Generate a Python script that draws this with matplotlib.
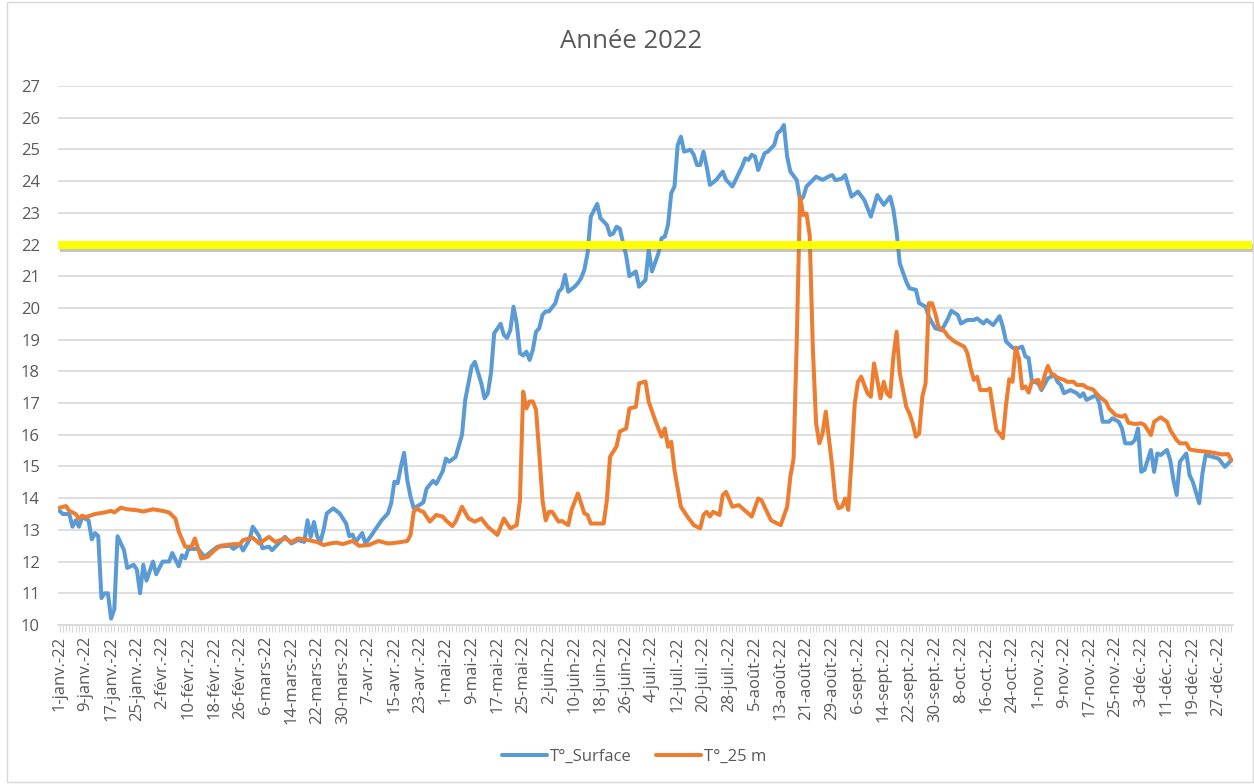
import matplotlib
matplotlib.use("Agg")
import matplotlib.pyplot as plt
import matplotlib.patheffects as pe
import pandas as pd

# Day of year (0 = 1 janv. 2022) and temperature readings
surface_days = [0, 1, 3, 4, 5, 6, 7, 9, 10, 11, 12, 13, 14, 15, 16, 17, 18, 20, 21, 23,
                24, 25, 26, 27, 29, 30, 32, 34, 35, 37, 38, 39, 40, 43, 45, 49, 53, 54, 56, 57,
                59, 60, 62, 63, 65, 66, 68, 70, 72, 74, 76, 77, 78, 79, 80, 81, 82, 83, 85, 87,
                89, 90, 91, 92, 94, 95, 97, 98, 100, 102, 103, 104, 105, 106, 107, 108, 109, 110, 112, 113,
                114, 116, 117, 119, 120, 121, 123, 125, 126, 128, 129, 131, 132, 133, 134, 135, 137, 138, 139, 140,
                141, 142, 143, 144, 145, 146, 147, 148, 149, 150, 151, 152, 154, 155, 156, 157, 158, 160, 161, 162,
                163, 164, 165, 167, 168, 170, 171, 172, 173, 174, 176, 177, 179, 180, 182, 183, 184, 186, 187, 188,
                189, 190, 191, 192, 193, 194, 196, 197, 198, 199, 200, 201, 202, 204, 206, 207, 209, 210, 212, 213,
                214, 215, 216, 217, 219, 220, 222, 223, 224, 225, 226, 227, 229, 230, 231, 232, 234, 235, 237, 239,
                240, 241, 243, 244, 246, 248, 250, 252, 254, 256, 258, 259, 260, 261, 263, 264, 266, 267, 269, 270,
                272, 274, 276, 277, 279, 280, 282, 284, 285, 287, 288, 290, 292, 293, 294, 296, 297, 299, 300, 301,
                302, 304, 305, 307, 309, 310, 311, 312, 314, 316, 317, 318, 319, 321, 322, 323, 324, 326, 327, 329,
                330, 331, 333, 334, 335, 336, 337, 338, 339, 340, 341, 342, 344, 345, 346, 347, 348, 350, 351, 352,
                354, 355, 356, 358, 360, 362, 364]
surface_vals = [13.6, 13.5, 13.5, 13.1, 13.3, 13.1, 13.4, 13.3, 12.7, 12.9, 12.8, 10.85, 11.0, 11.0, 10.2, 10.5, 12.8, 12.36, 11.8, 11.9,
                11.75, 11.0, 11.9, 11.4, 12.0, 11.6, 12.0, 12.0, 12.27, 11.85, 12.2, 12.1, 12.4, 12.4, 12.15, 12.47, 12.5, 12.4, 12.55, 12.35,
                12.7, 13.1, 12.8, 12.42, 12.47, 12.36, 12.57, 12.78, 12.57, 12.68, 12.62, 13.3, 12.78, 13.25, 12.8, 12.62, 13.0, 13.52, 13.68, 13.52,
                13.2, 12.8, 12.85, 12.62, 12.9, 12.57, 12.85, 13.0, 13.3, 13.52, 13.84, 14.52, 14.47, 14.99, 15.43, 14.57, 14.05, 13.68, 13.8, 13.87,
                14.3, 14.55, 14.45, 14.85, 15.25, 15.15, 15.3, 16.0, 17.1, 18.15, 18.3, 17.62, 17.15, 17.3, 17.94, 19.2, 19.5, 19.15, 19.05, 19.3,
                20.04, 19.51, 18.57, 18.5, 18.62, 18.36, 18.68, 19.25, 19.36, 19.78, 19.89, 19.89, 20.15, 20.51, 20.62, 21.04, 20.51, 20.67, 20.78, 20.94,
                21.2, 21.72, 22.88, 23.28, 22.83, 22.62, 22.3, 22.35, 22.56, 22.5, 21.65, 21.0, 21.15, 20.67, 20.88, 21.83, 21.15, 21.72, 22.2, 22.25,
                22.62, 23.62, 23.83, 25.14, 25.4, 24.93, 24.99, 24.83, 24.51, 24.51, 24.93, 24.46, 23.88, 24.04, 24.3, 24.04, 23.83, 24.04, 24.46, 24.72,
                24.67, 24.83, 24.78, 24.35, 24.88, 24.93, 25.14, 25.51, 25.6, 25.77, 24.77, 24.3, 24.03, 23.4, 23.5, 23.83, 24.04, 24.14, 24.04, 24.15,
                24.19, 24.03, 24.08, 24.19, 23.51, 23.67, 23.4, 22.88, 23.56, 23.25, 23.51, 23.1, 22.4, 21.4, 20.83, 20.62, 20.57, 20.15, 20.04, 19.72,
                19.36, 19.3, 19.67, 19.91, 19.78, 19.51, 19.62, 19.62, 19.67, 19.51, 19.62, 19.46, 19.74, 19.41, 18.94, 18.75, 18.7, 18.78, 18.47, 18.42,
                17.7, 17.62, 17.41, 17.78, 17.89, 17.67, 17.57, 17.31, 17.41, 17.31, 17.2, 17.31, 17.1, 17.2, 17.25, 16.99, 16.41, 16.41, 16.52, 16.41,
                16.2, 15.73, 15.73, 15.83, 16.2, 14.83, 14.89, 15.2, 15.52, 14.83, 15.41, 15.36, 15.52, 15.2, 14.57, 14.1, 15.15, 15.41, 14.73, 14.52,
                13.84, 14.78, 15.36, 15.31, 15.25, 14.99, 15.2]

deep_days = [0, 2, 3, 5, 6, 7, 8, 11, 14, 16, 17, 19, 21, 24, 26, 29, 32, 34, 36, 37,
             39, 41, 42, 44, 46, 48, 50, 54, 56, 57, 60, 62, 65, 67, 70, 72, 74, 77, 80, 82,
             84, 86, 88, 91, 93, 96, 99, 102, 105, 108, 109, 110, 111, 112, 113, 115, 117, 119, 120, 122,
             123, 125, 127, 129, 131, 133, 136, 138, 140, 142, 143, 144, 145, 146, 147, 148, 149, 150, 151, 152,
             153, 155, 156, 158, 159, 161, 163, 164, 165, 167, 169, 170, 171, 173, 174, 176, 177, 179, 180, 182,
             183, 185, 187, 188, 189, 190, 191, 193, 195, 197, 199, 200, 201, 202, 203, 205, 206, 207, 209, 211,
             213, 215, 217, 218, 221, 224, 226, 227, 228, 229, 230, 231, 232, 233, 234, 235, 236, 237, 238, 240,
             241, 242, 243, 244, 245, 246, 247, 248, 249, 251, 252, 253, 254, 255, 256, 257, 258, 259, 260, 261,
             262, 263, 264, 265, 266, 267, 268, 269, 270, 271, 272, 273, 275, 276, 278, 280, 281, 282, 283, 284,
             285, 286, 288, 289, 290, 291, 292, 293, 294, 295, 296, 297, 298, 299, 300, 301, 302, 304, 305, 306,
             307, 308, 310, 312, 313, 315, 316, 318, 319, 321, 323, 325, 326, 328, 330, 331, 332, 334, 336, 337,
             339, 340, 342, 344, 345, 347, 348, 350, 351, 353, 356, 358, 361, 363, 364]
deep_vals = [13.7, 13.75, 13.6, 13.5, 13.35, 13.45, 13.4, 13.5, 13.55, 13.6, 13.55, 13.7, 13.65, 13.62, 13.58, 13.65, 13.6, 13.55, 13.35, 12.95,
             12.47, 12.47, 12.73, 12.1, 12.15, 12.35, 12.5, 12.55, 12.55, 12.68, 12.75, 12.57, 12.78, 12.62, 12.73, 12.62, 12.73, 12.68, 12.62, 12.52,
             12.57, 12.6, 12.55, 12.65, 12.5, 12.52, 12.65, 12.57, 12.6, 12.65, 12.84, 13.57, 13.68, 13.6, 13.57, 13.26, 13.47, 13.42, 13.3, 13.12,
             13.26, 13.73, 13.36, 13.26, 13.36, 13.1, 12.84, 13.36, 13.05, 13.15, 13.94, 17.36, 16.83, 17.05, 17.05, 16.78, 15.41, 13.94, 13.3, 13.57,
             13.57, 13.26, 13.28, 13.15, 13.62, 14.15, 13.52, 13.47, 13.2, 13.2, 13.2, 13.94, 15.31, 15.63, 16.1, 16.2, 16.83, 16.88, 17.62, 17.68,
             17.04, 16.46, 15.94, 16.2, 15.62, 15.78, 14.89, 13.73, 13.42, 13.15, 13.05, 13.47, 13.57, 13.42, 13.57, 13.47, 14.1, 14.2, 13.73, 13.78,
             13.6, 13.42, 13.99, 13.94, 13.3, 13.15, 13.73, 14.68, 15.25, 19.0, 23.51, 22.93, 22.98, 22.3, 18.67, 16.36, 15.73, 16.04, 16.73, 14.99,
             13.94, 13.68, 13.73, 13.99, 13.63, 15.2, 16.99, 17.67, 17.83, 17.3, 17.2, 18.25, 17.73, 17.15, 17.67, 17.3, 17.2, 18.46, 19.25, 17.94,
             17.41, 16.88, 16.67, 16.36, 15.94, 16.04, 17.2, 17.62, 20.15, 20.15, 19.83, 19.41, 19.25, 19.1, 18.94, 18.83, 18.78, 18.57, 18.1, 17.73,
             17.83, 17.41, 17.41, 17.46, 16.78, 16.15, 16.04, 15.89, 16.95, 17.75, 17.67, 18.75, 18.41, 17.46, 17.52, 17.33, 17.67, 17.73, 17.46, 17.88,
             18.17, 17.94, 17.8, 17.73, 17.67, 17.67, 17.57, 17.57, 17.49, 17.43, 17.2, 17.04, 16.83, 16.62, 16.57, 16.62, 16.38, 16.34, 16.36, 16.31,
             15.99, 16.41, 16.55, 16.41, 16.15, 15.83, 15.73, 15.73, 15.54, 15.5, 15.47, 15.44, 15.38, 15.39, 15.2]

threshold = 22
year = 2022
month_abbr = ["janv.", "févr.", "mars", "avr.", "mai", "juin",
              "juil.", "août", "sept.", "oct.", "nov.", "déc."]

all_days = pd.date_range(f"{year}-01-01", f"{year}-12-31", freq="D")
tick_pos = list(range(0, len(all_days), 8))
tick_labels = [f"{all_days[i].day}-{month_abbr[all_days[i].month - 1]}-{str(year)[2:]}" for i in tick_pos]

plt.rcParams['font.family'] = ['Open Sans', 'DejaVu Sans']
grey_txt = "#595959"
grid_col = "#D9D9D9"

fig = plt.figure(figsize=(12.54, 7.84), dpi=100)
ax = fig.add_axes([58 / 1254, 1 - 625 / 784, (1233 - 58) / 1254, (625 - 86) / 784])

ax.plot(surface_days, surface_vals, color="#5B9BD5", lw=2.9, label="T°_Surface",
        solid_joinstyle="round", solid_capstyle="round", zorder=3)
ax.plot(deep_days, deep_vals, color="#ED7D31", lw=2.9, label="T°_25 m",
        solid_joinstyle="round", solid_capstyle="round", zorder=3)

# yellow threshold line with a soft shadow, runs past the plot to the right
ax.axhline(threshold, xmin=0, xmax=1.016, color="#FFFF00", lw=5.8, clip_on=False, zorder=4,
           solid_capstyle="butt",
           path_effects=[pe.SimpleLineShadow(offset=(1.5, -2.5), shadow_color="#7F7F7F", alpha=0.45),
                         pe.Normal()])

ax.set_xlim(-0.5, len(all_days) - 0.5)
ax.set_ylim(10, 27)
ax.set_yticks(range(10, 28))
ax.set_xticks(tick_pos)
ax.set_xticklabels(tick_labels, rotation=90, fontsize=12, color=grey_txt)
ax.set_xticks(range(len(all_days)), minor=True)
ax.tick_params(axis="x", which="both", length=5, color=grid_col, width=0.8, pad=3)
ax.tick_params(axis="y", length=0, pad=13, labelsize=12, labelcolor=grey_txt)
ax.grid(axis="y", color=grid_col, lw=1.2, zorder=0)
for s in ["top", "right", "left"]:
    ax.spines[s].set_visible(False)
ax.spines["bottom"].set_color(grid_col)
ax.spines["bottom"].set_linewidth(1.2)

fig.text(631 / 1254, 1 - 42 / 784, "Année 2022", ha="center", va="center", fontsize=18.5, color=grey_txt)

fig.legend(loc="center", bbox_to_anchor=(634 / 1254, 1 - 757 / 784), ncol=2, frameon=False,
           fontsize=12, labelcolor=grey_txt, handlelength=2.7, handletextpad=0.15, columnspacing=1.5)

# chart border
fig.patches.append(plt.Rectangle((7 / 1254, 0.002), 1 - 8 / 1254, 0.996, transform=fig.transFigure,
                                 fill=False, edgecolor=grid_col, lw=1))

fig.savefig("out.png", dpi=100)
